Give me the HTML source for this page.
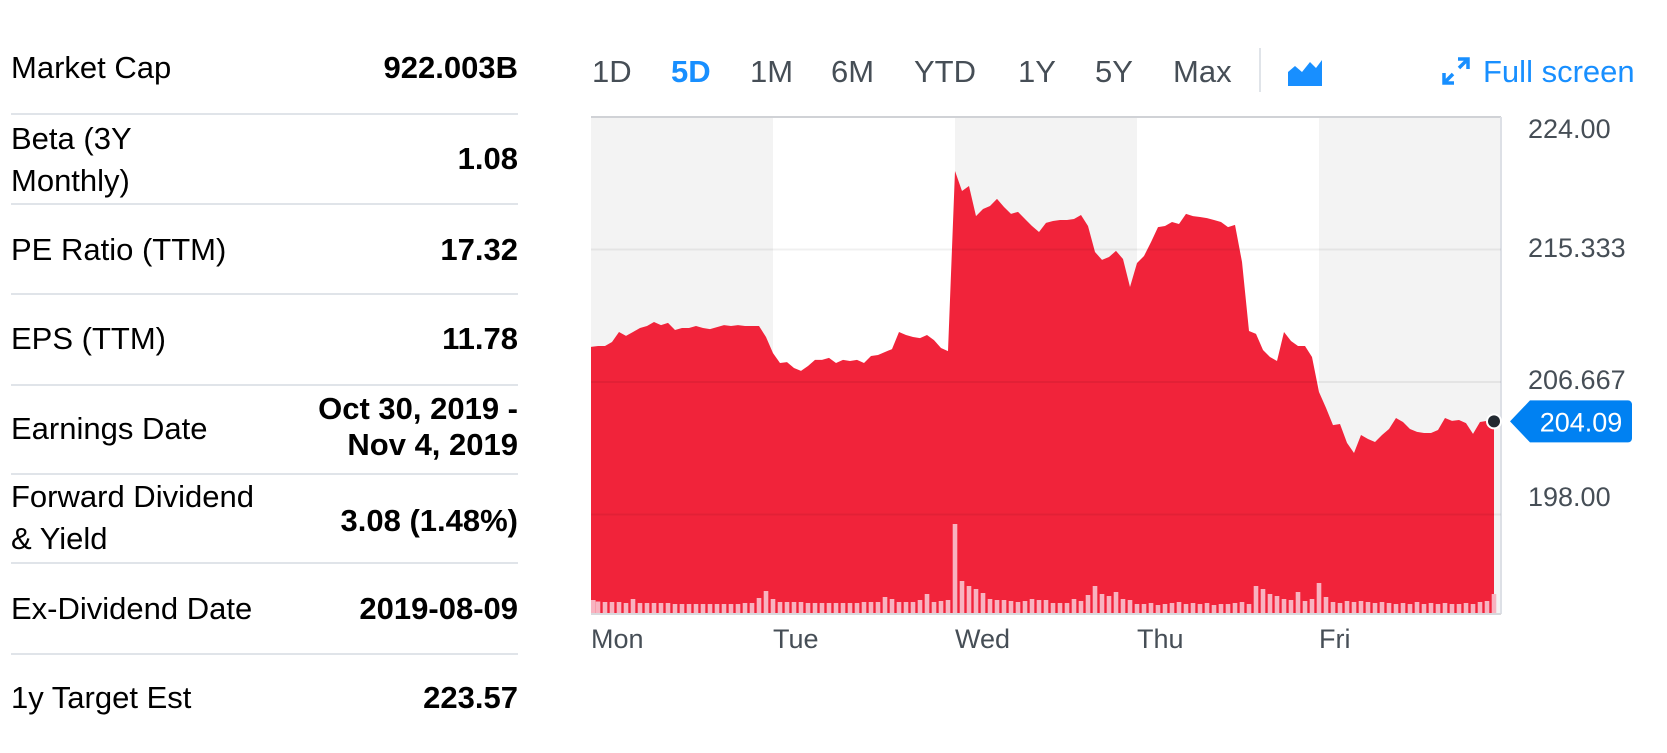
<!DOCTYPE html>
<html><head><meta charset="utf-8"><style>
body{margin:0;width:1667px;height:753px;background:#fff;overflow:hidden;font-family:"Liberation Sans",Arial,sans-serif;position:relative}
.a{position:absolute;white-space:nowrap}
.lbl{left:11px;font-size:31px;color:#000;line-height:42px}
.val{right:1149px;font-size:31px;font-weight:bold;color:#000;text-align:right;line-height:36px}
.sep{position:absolute;left:11px;width:507px;height:2px;background:#e0e4e9}
.tab{position:absolute;top:52px;font-size:31px;color:#464e56;line-height:40px}
</style></head><body>
<div>
<div class="a lbl" style="top:47px">Market Cap</div>
<div class="a val" style="top:50px">922.003B</div>
<div class="sep" style="top:113px"></div>
<div class="a lbl" style="top:118px">Beta (3Y<br>Monthly)</div>
<div class="a val" style="top:141px">1.08</div>
<div class="sep" style="top:203px"></div>
<div class="a lbl" style="top:229px">PE Ratio (TTM)</div>
<div class="a val" style="top:232px">17.32</div>
<div class="sep" style="top:293px"></div>
<div class="a lbl" style="top:318px">EPS (TTM)</div>
<div class="a val" style="top:321px">11.78</div>
<div class="sep" style="top:384px"></div>
<div class="a lbl" style="top:408px">Earnings Date</div>
<div class="a val" style="top:391px">Oct 30, 2019 -<br>Nov 4, 2019</div>
<div class="sep" style="top:473px"></div>
<div class="a lbl" style="top:476px">Forward Dividend<br>&amp; Yield</div>
<div class="a val" style="top:503px">3.08 (1.48%)</div>
<div class="sep" style="top:562px"></div>
<div class="a lbl" style="top:588px">Ex-Dividend Date</div>
<div class="a val" style="top:591px">2019-08-09</div>
<div class="sep" style="top:653px"></div>
<div class="a lbl" style="top:677px">1y Target Est</div>
<div class="a val" style="top:680px">223.57</div>
</div>

<div>
<div class="tab" style="left:592px">1D</div>
<div class="tab" style="left:671px;color:#188fff;font-weight:bold">5D</div>
<div class="tab" style="left:750px">1M</div>
<div class="tab" style="left:831px">6M</div>
<div class="tab" style="left:914px">YTD</div>
<div class="tab" style="left:1018px">1Y</div>
<div class="tab" style="left:1095px">5Y</div>
<div class="tab" style="left:1173px">Max</div>
<div class="a" style="left:1259px;top:48px;width:2px;height:44px;background:#e0e4e9"></div>
<svg class="a" style="left:1288px;top:58px" width="34" height="28" viewBox="0 0 34 28"><path d="M0 28 L0 14 L7 8 L14 14 L22 4 L28 10 L34 2 L34 28 Z" fill="#188fff"/></svg>
<svg class="a" style="left:1440px;top:55px" width="32" height="32" viewBox="0 0 32 32"><g stroke="#188fff" stroke-width="3.5" fill="none"><path d="M4 28 L13 19 M4 18 V28 H14"/><path d="M28 4 L19 13 M18 4 H28 V14"/></g></svg>
<div class="tab" style="left:1483px;color:#188fff">Full screen</div>
</div>

<svg id="chart" class="a" style="left:0;top:0" width="1667" height="753"></svg>

<script>
const days=["Mon","Tue","Wed","Thu","Fri"];
const yTicks=["224.00","215.333","206.667","198.00"];
const prices=[208.96,209.02,209.02,209.28,209.94,209.68,209.94,210.20,210.33,210.59,210.39,210.53,210.07,210.20,210.20,210.33,210.20,210.13,210.26,210.39,210.33,210.39,210.33,210.33,210.33,209.61,
208.56,207.91,207.97,207.58,207.39,207.71,208.11,208.11,208.24,207.91,208.11,208.04,208.11,207.91,208.37,208.43,208.63,208.82,209.94,209.74,209.61,209.54,209.74,209.41,208.89,208.69,
220.47,219.16,219.49,217.52,217.98,218.18,218.64,218.11,217.66,217.79,217.33,216.87,216.48,217.07,217.20,217.26,217.26,217.33,217.59,216.87,215.17,214.65,214.84,215.24,214.71,212.88,
214.45,214.91,215.82,216.80,216.87,217.13,217.00,217.66,217.52,217.46,217.39,217.26,217.13,216.80,216.94,214.52,210.00,209.81,208.76,208.30,208.04,209.94,209.35,209.02,209.02,208.30,
206.01,204.97,203.85,203.92,202.68,202.02,203.20,202.94,202.74,203.20,203.59,204.31,204.05,203.59,203.40,203.33,203.33,203.53,204.31,204.12,204.18,203.98,203.27,204.05,204.12,204.09];
const volumes=[140,125,120,120,120,110,150,110,110,110,110,110,100,100,100,100,100,100,100,100,100,100,110,110,160,230,
150,120,120,120,120,110,110,110,110,110,110,110,110,120,120,120,170,150,120,120,120,140,200,120,130,140,
900,330,280,250,210,150,140,140,130,120,130,150,140,140,110,110,110,150,130,190,280,200,180,220,150,140,
100,100,110,90,100,110,120,100,110,100,110,90,100,100,110,120,100,280,250,200,180,150,140,220,130,150,
310,170,120,110,130,120,130,120,110,120,110,100,110,100,120,100,110,100,110,100,100,110,100,120,130,200];
const lastPrice=204.09;

const NS="http://www.w3.org/2000/svg";
const svg=document.getElementById('chart');
const L=591,R=1501,T=117,B=614,step=7,dayW=182;
const pMax=224,pMin=198,yTop=117,yBot=514.5;
function y(p){return yTop+(pMax-p)/(pMax-pMin)*(yBot-yTop);}
function x(i){return L+i*step;}
function vh(v){return v*0.1;}
function mk(tag,attrs){const e=document.createElementNS(NS,tag);for(const k in attrs)e.setAttribute(k,attrs[k]);svg.appendChild(e);return e;}

days.forEach((d,k)=>{
  const r=mk('rect',{x:L+k*dayW,y:T,width:(k==4?R-(L+k*dayW):dayW),height:B-T,fill:k%2==0?'#f3f3f3':'#ffffff'});
  
  
  const t=mk('text',{x:L+k*dayW,y:648,'font-size':27,fill:'#464e56','font-family':'Liberation Sans, sans-serif'});
  t.textContent=d;
  
  
});
const border=mk('line',{x1:L,x2:R,y1:T,y2:T,stroke:'#d0d2d6','stroke-width':2});


const rb=mk('line',{x1:R,x2:R,y1:T,y2:B,stroke:'#dde0e6','stroke-width':2});



let d='M'+x(0)+' '+B;
prices.forEach((p,i)=>{d+=' L'+x(i)+' '+y(p).toFixed(1);});
d+=' L'+x(prices.length-1)+' '+B+' Z';
const area=mk('path',{d:d,fill:'#f0172f','fill-opacity':0.95});



[215.333,206.667,198].forEach(p=>{
  const g=mk('line',{x1:L,x2:R,y1:y(p),y2:y(p),stroke:'rgba(0,0,0,0.06)','stroke-width':2});
  
  
});

volumes.forEach((v,i)=>{
  const b=mk('rect',{x:Math.max(L,x(i)-2.3),y:B-vh(v),width:4.6,height:vh(v),fill:'#f8b3c0'});
  
  
});
const base=mk('line',{x1:L,x2:R,y1:B,y2:B,stroke:'#d8d8dc','stroke-width':2});



const labelY=[129,248,380,497];
yTicks.forEach((t,k)=>{
  const e=mk('text',{x:1528,y:labelY[k]+9,'font-size':27,fill:'#464e56','font-family':'Liberation Sans, sans-serif'});
  e.textContent=t;
  
  
});

const ly=y(lastPrice), lx=x(prices.length-1);
const tag=mk('path',{d:`M1510 ${ly} L1530 ${ly-21} H1628 a4 4 0 0 1 4 4 V${ly+17} a4 4 0 0 1 -4 4 H1530 Z`,fill:'#0081f2'});


const tt=mk('text',{x:1581,y:ly+10,'font-size':27,fill:'#fff','text-anchor':'middle','font-family':'Liberation Sans, sans-serif'});
tt.textContent=lastPrice.toFixed(2);


const dot=mk('circle',{cx:lx,cy:ly,r:7,fill:'#232a31',stroke:'#fff','stroke-width':2});


</script>
</body></html>
